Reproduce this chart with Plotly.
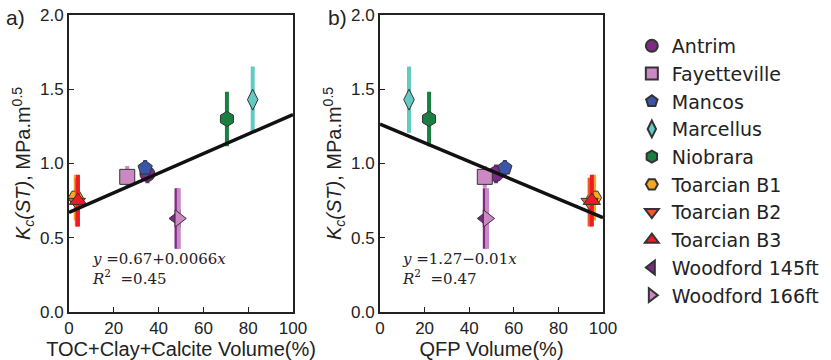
import plotly.graph_objects as go

names = ["Antrim", "Fayetteville", "Mancos", "Marcellus", "Niobrara",
         "Toarcian B1", "Toarcian B2", "Toarcian B3", "Woodford 145ft", "Woodford 166ft"]
tcc_vol = [35, 26, 34, 82, 70.5, 3, 3.5, 4, 48, 49]
qfp_vol = [52, 47, 56, 13, 22, 96, 94, 95, 47, 48]
kc = [0.93, 0.91, 0.97, 1.43, 1.30, 0.77, 0.74, 0.75, 0.63, 0.63]
kc_err = [0.05, 0.06, 0.04, 0.21, 0.17, 0.14, 0.15, 0.16, 0.19, 0.19]

colors = ["#7b2a85", "#cc88c2", "#3a55a8", "#62cbc3", "#1a8042",
          "#f7a823", "#f05a28", "#ed1c24", "#7b2a85", "#cc88c2"]
symbols = ["circle", "square", "pentagon", "diamond-tall", "hexagon",
           "hexagon2", "triangle-down", "triangle-up", "triangle-left", "triangle-right"]

fit_x = [0, 100]
fit_a = [0.67, 0.67 + 0.0066 * 100]
fit_b = [1.265, 1.265 - 0.0063 * 100]

fig = go.Figure()

for i, n in enumerate(names):
    for j, (xs, ax) in enumerate([(tcc_vol, "x"), (qfp_vol, "x2")]):
        fig.add_trace(go.Scatter(
            x=[xs[i]], y=[kc[i]], xaxis=ax, yaxis="y" if ax == "x" else "y2",
            mode="markers", name=n, legendgroup=n, showlegend=(j == 0),
            marker=dict(symbol=symbols[i], color=colors[i], size=15,
                        line=dict(color="#333333", width=1)),
            error_y=dict(type="data", array=[kc_err[i]], color=colors[i],
                         thickness=4, width=2),
        ))

fig.add_trace(go.Scatter(x=fit_x, y=fit_a, mode="lines", showlegend=False,
                         line=dict(color="#111111", width=3.5), xaxis="x", yaxis="y"))
fig.add_trace(go.Scatter(x=fit_x, y=fit_b, mode="lines", showlegend=False,
                         line=dict(color="#111111", width=3.5), xaxis="x2", yaxis="y2"))

ytitle = "<i>K</i><sub><i>c</i></sub><i>(ST)</i>, MPa.m<sup>0.5</sup>"
txt = "#222222"
axfont = dict(family="Liberation Sans", size=17, color=txt)
titfont = dict(family="Liberation Sans", size=20, color=txt)

common_x = dict(range=[0, 100], dtick=20, ticks="inside", ticklen=5, showgrid=False,
                zeroline=False, showline=True, linecolor=txt, linewidth=2,
                mirror=True, tickfont=axfont, tickcolor=txt)
common_y = dict(range=[0, 2.0], dtick=0.5, tickformat=".1f", ticks="inside", ticklen=5,
                showgrid=False, zeroline=False, showline=True, linecolor=txt,
                linewidth=2, mirror=True, tickfont=axfont, tickcolor=txt)

pw = 831 - 69 - 228
ph = 360 - 15 - 48

fig.update_layout(
    width=831, height=360,
    margin=dict(l=69, r=228, t=15, b=48, autoexpand=False),
    plot_bgcolor="white", paper_bgcolor="white",
    xaxis=dict(common_x, domain=[0, 0.4195],
               title=dict(text="TOC+Clay+Calcite Volume(%)", font=titfont, standoff=2)),
    yaxis=dict(common_y, title=dict(text=ytitle, font=titfont, standoff=4)),
    xaxis2=dict(common_x, domain=[0.5824, 1], anchor="y2",
                title=dict(text="QFP Volume(%)", font=titfont, standoff=2)),
    yaxis2=dict(common_y, anchor="x2",
                title=dict(text=ytitle, font=titfont, standoff=4)),
    legend=dict(x=1.054, y=(312 - 27) / ph, xanchor="left", yanchor="top",
                font=dict(family="DejaVu Sans", size=19, color=txt),
                tracegroupgap=0, itemsizing="constant"),
    annotations=[
        dict(text="<i>y</i> =0.67+0.0066<i>x</i><br><i>R</i><sup>2</sup>  =0.45", x=9.5, y=0.43,
             xref="x", yref="y", xanchor="left", yanchor="top", showarrow=False, align="left",
             font=dict(family="DejaVu Serif", size=15, color=txt)),
        dict(text="<i>y</i> =1.27−0.01<i>x</i><br><i>R</i><sup>2</sup>  =0.47", x=9, y=0.43,
             xref="x2", yref="y2", xanchor="left", yanchor="top", showarrow=False, align="left",
             font=dict(family="DejaVu Serif", size=15, color=txt)),
        dict(text="a)", x=(15 - 69) / pw, y=(312 - 18) / ph, xref="paper", yref="paper",
             showarrow=False, xanchor="center", yanchor="middle",
             font=dict(family="Liberation Sans", size=21, color=txt)),
        dict(text="b)", x=(337 - 69) / pw, y=(312 - 18) / ph, xref="paper", yref="paper",
             showarrow=False, xanchor="center", yanchor="middle",
             font=dict(family="Liberation Sans", size=21, color=txt)),
    ],
)

fig.write_html("out.html", config={"displayModeBar": False},
               post_script="document.body.style.margin='0';")
